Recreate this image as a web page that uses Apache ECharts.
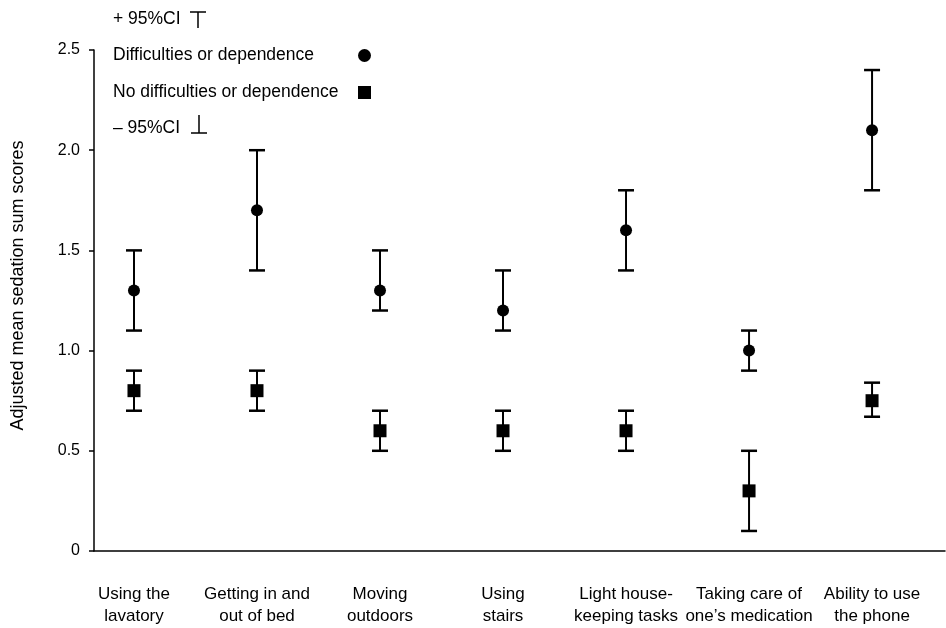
<!DOCTYPE html>
<html>
<head>
<meta charset="utf-8">
<script src="https://cdn.jsdelivr.net/npm/echarts@6/dist/echarts.min.js"></script>
<style>html,body{margin:0;padding:0;background:#fff}#c{width:946px;height:628px}</style>
</head>
<body>
<div id="c"></div>
<script>
var categories = ['Using the\nlavatory', 'Getting in and\nout of bed', 'Moving\noutdoors', 'Using\nstairs', 'Light house-\nkeeping tasks', 'Taking care of\none\u2019s medication', 'Ability to use\nthe phone'];
var diffMean  = [1.3, 1.7, 1.3, 1.2, 1.6, 1.0, 2.1];
var diffUpper = [1.5, 2.0, 1.5, 1.4, 1.8, 1.1, 2.4];
var diffLower = [1.1, 1.4, 1.2, 1.1, 1.4, 0.9, 1.8];
var noMean  = [0.8, 0.8, 0.6, 0.6, 0.6, 0.3, 0.75];
var noUpper = [0.9, 0.9, 0.7, 0.7, 0.7, 0.5, 0.84];
var noLower = [0.7, 0.7, 0.5, 0.5, 0.5, 0.1, 0.67];
var yTicks = [0, 0.5, 1.0, 1.5, 2.0, 2.5];

var FONT = 'Liberation Sans, Arial, sans-serif';

function errData(lo, hi) {
  return lo.map(function (v, i) { return [i, v, hi[i]]; });
}
function ptData(m) {
  return m.map(function (v, i) { return [i, v]; });
}
function renderErr(params, api) {
  var x = api.value(0);
  var lo = api.coord([x, api.value(1)]);
  var hi = api.coord([x, api.value(2)]);
  var hw = 8;
  var st = { stroke: '#000', lineWidth: 2 };
  var cap = { stroke: '#000', lineWidth: 2.5 };
  return {
    type: 'group',
    children: [
      { type: 'line', shape: { x1: lo[0], y1: lo[1], x2: hi[0], y2: hi[1] }, style: st },
      { type: 'line', shape: { x1: hi[0] - hw, y1: hi[1], x2: hi[0] + hw, y2: hi[1] }, style: cap },
      { type: 'line', shape: { x1: lo[0] - hw, y1: lo[1], x2: lo[0] + hw, y2: lo[1] }, style: cap }
    ]
  };
}

var chart = echarts.init(document.getElementById('c'), null, { renderer: 'canvas' });
chart.setOption({
  animation: false,
  backgroundColor: '#fff',
  grid: { left: 94, right: 1, top: 50, bottom: 77, containLabel: false },
  xAxis: {
    type: 'value', min: -0.325, max: 6.593,
    splitLine: { show: false },
    axisTick: { show: false },
    axisLine: { show: true, onZero: false, lineStyle: { color: '#000', width: 1.5 } },
    axisLabel: {
      customValues: [0, 1, 2, 3, 4, 5, 6],
      formatter: function (v) { return categories[Math.round(v)]; },
      color: '#000', fontFamily: FONT, fontSize: 17, lineHeight: 22, margin: 32
    }
  },
  yAxis: {
    type: 'value', min: 0, max: 2.5, interval: 0.5,
    name: 'Adjusted mean sedation sum scores',
    nameLocation: 'middle', nameGap: 67,
    nameTextStyle: { color: '#000', fontFamily: FONT, fontSize: 18, padding: [0, 0, 0, 30] },
    splitLine: { show: false },
    axisLine: { show: true, onZero: false, lineStyle: { color: '#000', width: 1.5 } },
    axisTick: { show: true, inside: false, length: 5, lineStyle: { color: '#000', width: 1.5 } },
    axisLabel: {
      customValues: yTicks,
      formatter: function (v) { return v === 0 ? '0' : v.toFixed(1); },
      color: '#000', fontFamily: FONT, fontSize: 16, margin: 14
    }
  },
  legend: {
    orient: 'vertical', left: 113, top: 45, align: 'right', padding: 0,
    itemWidth: 13, itemHeight: 13, itemGap: 16,
    formatter: '{a|{name}}',
    textStyle: {
      color: '#000', fontFamily: FONT, fontSize: 17.5, lineHeight: 21,
      rich: { a: { width: 240, align: 'left', color: '#000', fontFamily: FONT, fontSize: 17.5, lineHeight: 21 } }
    },
    data: [
      { name: 'Difficulties or dependence', icon: 'circle' },
      { name: 'No difficulties or dependence', icon: 'rect' }
    ],
    selectedMode: false
  },
  graphic: [
    { type: 'text', left: 113, top: 10, style: { text: '+ 95%CI', font: '17.5px ' + FONT, fill: '#000' } },
    { type: 'polyline', shape: { points: [[190, 12], [206, 12], [198, 12], [198, 28]] }, style: { stroke: '#000', lineWidth: 1.5, fill: null } },
    { type: 'text', left: 113, top: 119, style: { text: '\u2013 95%CI', font: '17.5px ' + FONT, fill: '#000' } },
    { type: 'polyline', shape: { points: [[199, 115], [199, 133], [191, 133], [207, 133]] }, style: { stroke: '#000', lineWidth: 1.5, fill: null } }
  ],
  series: [
    { name: 'Difficulties CI', type: 'custom', renderItem: renderErr, data: errData(diffLower, diffUpper), z: 2, silent: true },
    { name: 'No difficulties CI', type: 'custom', renderItem: renderErr, data: errData(noLower, noUpper), z: 2, silent: true },
    { name: 'Difficulties or dependence', type: 'scatter', symbol: 'circle', symbolSize: 12, itemStyle: { color: '#000', opacity: 1 }, data: ptData(diffMean), z: 5 },
    { name: 'No difficulties or dependence', type: 'scatter', symbol: 'rect', symbolSize: 13, itemStyle: { color: '#000', opacity: 1 }, data: ptData(noMean), z: 5 }
  ]
});
</script>
</body>
</html>
